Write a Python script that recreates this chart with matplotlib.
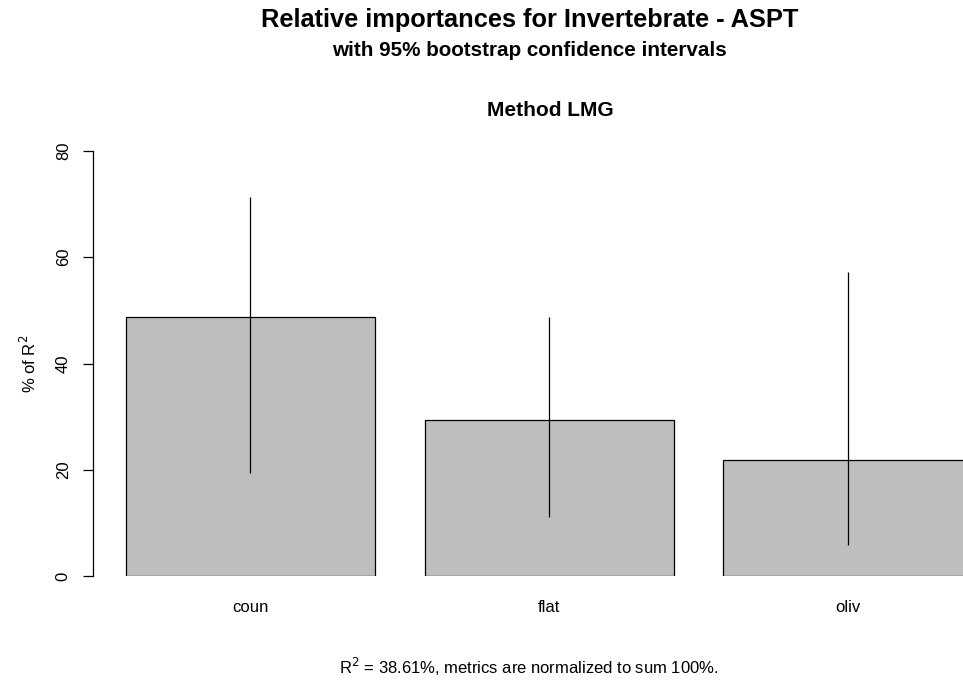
import matplotlib
matplotlib.use('Agg')
import matplotlib.pyplot as plt

plt.rcParams['font.family'] = ['Liberation Sans', 'DejaVu Sans']

# relative importances (% of R^2) and bootstrap CI
variables = ['coun', 'flat', 'oliv']
importance = [48.8, 29.3, 21.8]
ci_lower = [19.3, 11.1, 5.9]
ci_upper = [71.4, 48.7, 57.2]
r_squared = 38.61

W, H = 963, 680
fig = plt.figure(figsize=(W / 100, H / 100), dpi=100)

# axes placed in pixel coordinates, extends past right edge like the original
left, right, bottom, top = 93, 1010, 576, 151
ax = fig.add_axes([left / W, 1 - bottom / H, (right - left) / W, (bottom - top) / H])

# R barplot layout: width 1, space 0.2
positions = [0.2 + 0.5 + i * 1.2 for i in range(len(variables))]
ax.bar(positions, importance, width=1.0, color='#bebebe', edgecolor='black', linewidth=0.9)
ax.vlines(positions, ci_lower, ci_upper, color='black', linewidth=0.9)

ax.set_xlim((left - 76) / 249, (right - 76) / 249)
ax.set_ylim(0, 80)

for s in ['top', 'right', 'bottom']:
    ax.spines[s].set_visible(False)
ax.spines['left'].set_linewidth(0.9)
ax.spines['left'].set_bounds(0, 80)

ax.set_yticks([0, 20, 40, 60, 80])
ax.set_yticklabels(['0', '20', '40', '60', '80'], rotation=90, va='center', fontsize=12)
ax.tick_params(axis='y', length=7, width=0.9, pad=9)
ax.set_xticks(positions)
ax.set_xticklabels(variables, fontsize=12)
ax.tick_params(axis='x', length=0, pad=17)

ax.set_ylabel('% of R$^2$', fontsize=12, labelpad=12)

fig.text(530 / W, 1 - 20 / H, 'Relative importances for Invertebrate - ASPT',
         ha='center', va='center', fontsize=18.3, fontweight='bold')
fig.text(529 / W, 1 - 51 / H, 'with 95% bootstrap confidence intervals',
         ha='center', va='center', fontsize=14.9, fontweight='bold')
fig.text(550 / W, 1 - 111 / H, 'Method LMG',
         ha='center', va='center', fontsize=15, fontweight='bold')
fig.text(529 / W, 1 - 667 / H,
         'R$^2$ = %.2f%%, metrics are normalized to sum 100%%.' % r_squared,
         ha='center', va='center', fontsize=12)

fig.savefig('out.png', dpi=100)
